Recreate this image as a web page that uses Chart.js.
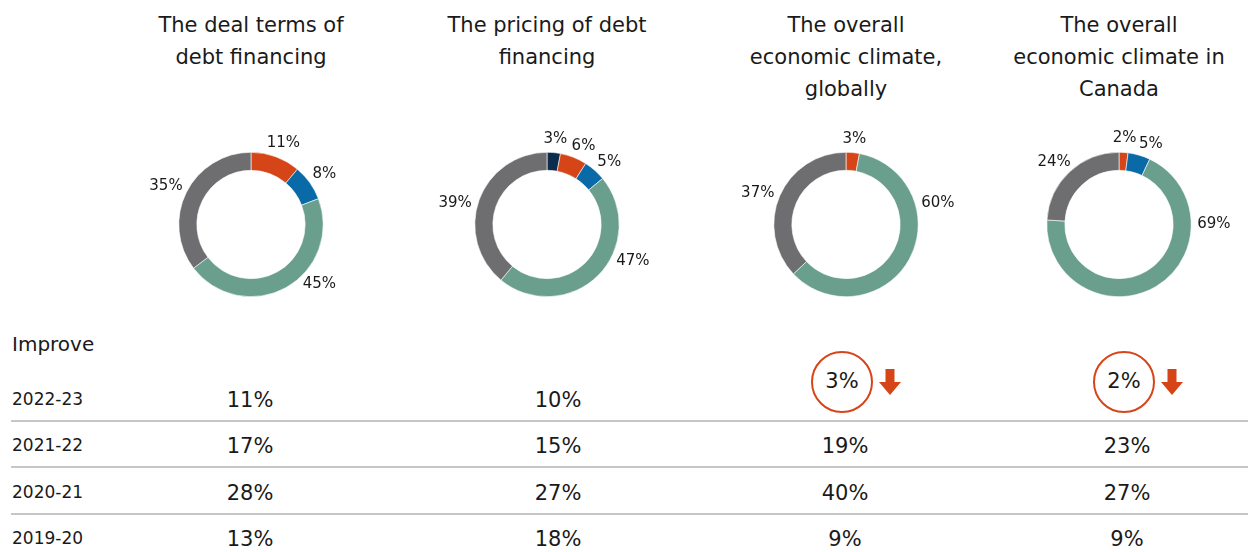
<!DOCTYPE html>
<html>
<head>
<meta charset="utf-8">
<script src="https://cdn.jsdelivr.net/npm/chart.js@4"></script>
<style>
  body { margin: 0; background: #fff; font-family: "DejaVu Sans", "Liberation Sans", Arial, sans-serif; color: #1a1a1a; }
  #page { position: relative; width: 1248px; height: 552px; overflow: hidden; }
  .title { position: absolute; top: 9px; width: 280px; text-align: center; font-size: 21px; line-height: 32px; }
  .donut { position: absolute; width: 300px; height: 200px; }
  .txt { position: absolute; white-space: nowrap; }
  .rule { position: absolute; left: 11px; right: 0; height: 0; border-top: 2px solid #c6c6c6; }
  .ring { position: absolute; width: 58px; height: 58px; border: 2px solid #d64518; border-radius: 50%; }
</style>
</head>
<body>
<div id="page"></div>
<script>
// segment order, clockwise from 12 o'clock
var segments = ["Improve significantly", "Improve", "Other", "Worsen", "Stay the same"];
var segColors = ["#0d2b4c", "#d64518", "#0a6aa8", "#6a9f8e", "#6e6e70"];

var titles = [
	["The deal terms of", "debt financing"],
	["The pricing of debt", "financing"],
	["The overall", "economic climate,", "globally"],
	["The overall", "economic climate in", "Canada"]
];

var dealTerms  = [0, 11, 8, 45, 35];
var pricing    = [3, 6, 5, 47, 39];
var globalEcon = [0, 3, 0, 60, 37];
var canadaEcon = [0, 2, 5, 69, 24];

var years = ["2022-23", "2021-22", "2020-21", "2019-20"];
var improve2223 = [11, 10, 3, 2];
var improve2122 = [17, 15, 19, 23];
var improve2021 = [28, 27, 40, 27];
var improve1920 = [13, 18, 9, 9];
var flagged = [false, false, true, true];

var page = document.getElementById('page');
var donutX = [251, 547, 846, 1119];
var donutY = 224;
var colX = [250, 558, 845, 1127];

function addText(str, x, y, size, align) {
	var d = document.createElement('div');
	d.className = 'txt';
	d.textContent = str;
	d.style.fontSize = size + 'px';
	d.style.top = (y - size * 0.6) + 'px';
	d.style.lineHeight = (size * 1.2) + 'px';
	if (align === 'left') {
		d.style.left = x + 'px';
	} else {
		d.style.left = (x - 100) + 'px';
		d.style.width = '200px';
		d.style.textAlign = 'center';
	}
	page.appendChild(d);
	return d;
}

// labels outside the ring, nudged clockwise when they collide
var outsideLabels = {
	id: 'outsideLabels',
	afterDatasetsDraw: function(chart) {
		var ctx = chart.ctx;
		var meta = chart.getDatasetMeta(0);
		var data = chart.data.datasets[0].data;
		var placed = [];
		ctx.save();
		ctx.font = '15px "DejaVu Sans", sans-serif';
		ctx.fillStyle = '#1a1a1a';
		ctx.textAlign = 'center';
		ctx.textBaseline = 'middle';
		meta.data.forEach(function(arc, i) {
			if (!data[i]) return;
			var p = arc.getProps(['x', 'y', 'startAngle', 'endAngle', 'outerRadius'], true);
			var span = p.endAngle - p.startAngle;
			var ang = p.startAngle + Math.min(span / 2, Math.PI * 2 * 0.18);
			var txt = data[i] + '%';
			var w = ctx.measureText(txt).width, h = 16;
			var lx, ly, tries = 0;
			do {
				var c = Math.cos(ang), s = Math.sin(ang);
				var r = p.outerRadius + 6;
				lx = p.x + c * r + c * w / 2;
				ly = p.y + s * r + s * h / 2;
				var hit = placed.some(function(b) {
					return Math.abs(b.x - lx) < (b.w + w) / 2 + 2 && Math.abs(b.y - ly) < h;
				});
				if (!hit) break;
				ang += 0.04;
			} while (++tries < 20);
			placed.push({ x: lx, y: ly, w: w });
			ctx.fillText(txt, lx, ly);
		});
		ctx.restore();
	}
};

[dealTerms, pricing, globalEcon, canadaEcon].forEach(function(vals, k) {
	var t = document.createElement('div');
	t.className = 'title';
	t.style.left = (donutX[k] - 140) + 'px';
	t.innerHTML = titles[k].join('<br>');
	page.appendChild(t);

	var holder = document.createElement('div');
	holder.className = 'donut';
	holder.style.left = (donutX[k] - 150) + 'px';
	holder.style.top = (donutY - 100) + 'px';
	var cv = document.createElement('canvas');
	holder.appendChild(cv);
	page.appendChild(holder);

	new Chart(cv, {
		type: 'doughnut',
		data: {
			labels: segments,
			datasets: [{
				data: vals,
				backgroundColor: segColors,
				borderColor: '#ffffff',
				borderWidth: 0.6
			}]
		},
		options: {
			responsive: true,
			maintainAspectRatio: false,
			animation: false,
			cutout: '75%',
			layout: { padding: { top: 28, bottom: 27, left: 0, right: 0 } },
			plugins: { legend: { display: false }, tooltip: { enabled: false } }
		},
		plugins: [outsideLabels]
	});
});

// table below
addText('Improve', 12, 344, 20, 'left');
var rowY = [399, 445, 492, 538];
var rows = [improve2223, improve2122, improve2021, improve1920];
years.forEach(function(y, r) {
	addText(y, 12, rowY[r], 17, 'left');
	rows[r].forEach(function(v, c) {
		if (r === 0 && flagged[c]) {
			addText(v + '%', colX[c] - 3, 382, 21, 'center');
		} else {
			addText(v + '%', colX[c], rowY[r] + 2, 21, 'center');
		}
	});
	if (r < years.length - 1) {
		var line = document.createElement('div');
		line.className = 'rule';
		line.style.top = (rowY[r] + 21) + 'px';
		page.appendChild(line);
	}
});

// highlight rings and down arrows
flagged.forEach(function(f, c) {
	if (!f) return;
	var cx = colX[c] - 3;
	var ring = document.createElement('div');
	ring.className = 'ring';
	ring.style.left = (cx - 31) + 'px';
	ring.style.top = (382 - 31) + 'px';
	page.appendChild(ring);
	var svgNS = 'http://www.w3.org/2000/svg';
	var svg = document.createElementNS(svgNS, 'svg');
	svg.setAttribute('width', '24');
	svg.setAttribute('height', '27');
	svg.style.position = 'absolute';
	svg.style.left = (cx + 36) + 'px';
	svg.style.top = '369px';
	var poly = document.createElementNS(svgNS, 'polygon');
	poly.setAttribute('points', '7.5,0 16.5,0 16.5,13 23,13 12,26 1,13 7.5,13');
	poly.setAttribute('fill', '#d64518');
	svg.appendChild(poly);
	page.appendChild(svg);
});
</script>
</body>
</html>
